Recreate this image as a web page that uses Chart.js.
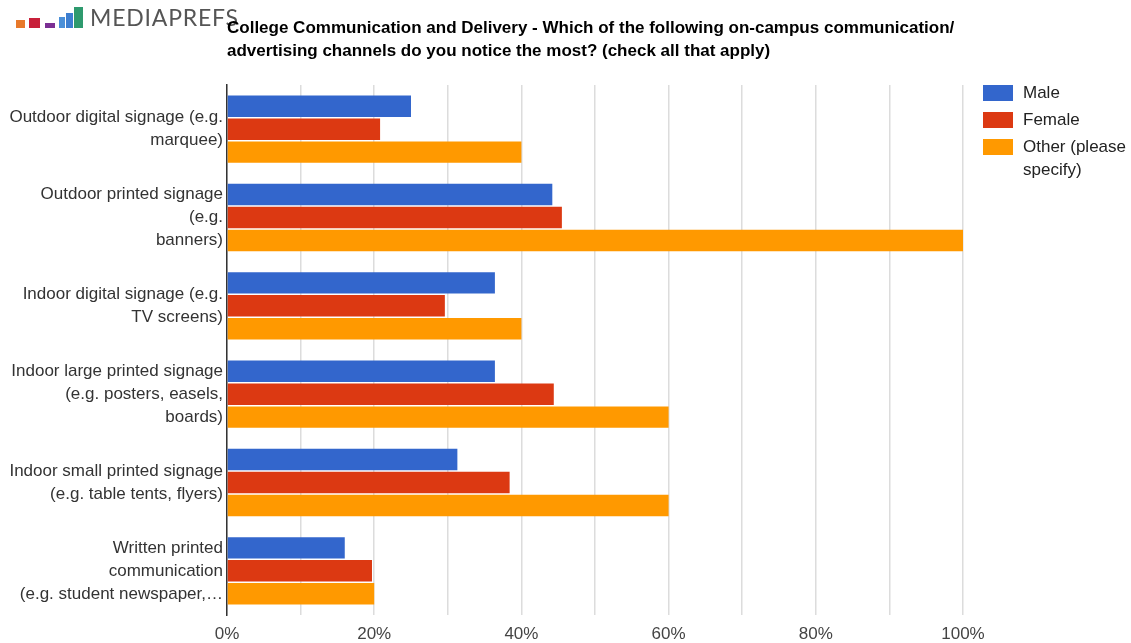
<!DOCTYPE html>
<html lang="en">

<head>
    <meta charset="UTF-8">
    <title>College Communication and Delivery</title>
    <style>
        body { margin: 0; background: #fff; font-family: "Liberation Sans", Arial, sans-serif; }
        .pagina { position: relative; width: 1131px; height: 643px; overflow: hidden; }
        .grafico { position: absolute; left: 0; top: 0; width: 1131px; height: 643px; }
        .logo { position: absolute; left: 16px; top: 4px; height: 24px; }
        .logo i { position: absolute; bottom: 0; display: block; }
        .logo span { position: absolute; left: 74px; top: -1px; font-family: Lato, "Open Sans", sans-serif; font-size: 23px; color: #555; letter-spacing: 0.8px; white-space: nowrap; }
        .titulo { position: absolute; left: 227px; top: 16px; font-weight: bold; font-size: 17px; line-height: 23px; color: #000; white-space: nowrap; }
        .legenda { position: absolute; left: 983px; top: 81px; font-size: 17px; color: #222; }
        .legenda div { position: relative; padding-left: 40px; line-height: 23px; margin-bottom: 4px; white-space: nowrap; }
        .legenda b { position: absolute; left: 0; top: 4px; width: 30px; height: 16px; }
    </style>
</head>

<body>
    <div class="pagina">
        <div class="grafico"><canvas id="chart1"></canvas></div>
        <div class="logo">
            <i style="left:0;width:9px;height:8px;background:#e8792a"></i>
            <i style="left:13px;width:11px;height:10px;background:#c8203a"></i>
            <i style="left:29px;width:10px;height:5px;background:#7b2f93"></i>
            <i style="left:43px;width:6px;height:11px;background:#4a8fd8"></i>
            <i style="left:50px;width:7px;height:15px;background:#3d7ed0"></i>
            <i style="left:58px;width:9px;height:21px;background:#2e9a6e"></i>
            <span>MEDIAPREFS</span>
        </div>
        <div class="titulo">College Communication and Delivery - Which of the following on-campus communication/<br>advertising channels do you notice the most? (check all that apply)</div>
        <div class="legenda" id="legenda"></div>
    </div>

    <script src="https://cdn.jsdelivr.net/npm/chart.js"></script>
    <script>
        // canais perguntados
        var categorias = [
            ["Outdoor digital signage (e.g.", "marquee)"],
            ["Outdoor printed signage", "(e.g.", "banners)"],
            ["Indoor digital signage (e.g.", "TV screens)"],
            ["Indoor large printed signage", "(e.g. posters, easels,", "boards)"],
            ["Indoor small printed signage", "(e.g. table tents, flyers)"],
            ["Written printed", "communication", "(e.g. student newspaper,…"]
        ];

        // % de respostas por genero
        var masculino = [25, 44.2, 36.4, 36.4, 31.3, 16];
        var feminino = [20.8, 45.5, 29.6, 44.4, 38.4, 19.7];
        var outro = [40, 100, 40, 60, 60, 20];

        var nomes = ["Male", "Female", ["Other (please", "specify)"]];
        var cores = ["#3366cc", "#dc3912", "#ff9900"];
        var ticksX = [0, 20, 40, 60, 80, 100];

        const ctx = document.getElementById('chart1');

        var series = [masculino, feminino, outro];
        var data = {
            labels: categorias,
            datasets: []
        };
        for (i = 0; i < series.length; i++) {
            data.datasets.push({
                label: [].concat(nomes[i]).join(" "),
                data: series[i],
                backgroundColor: cores[i],
                borderWidth: 0,
                categoryPercentage: 0.78,
                barPercentage: 0.935
            });
        }

        chart1 = new Chart(ctx, {
            type: 'bar',
            data: data,
            options: {
                indexAxis: 'y',
                responsive: true,
                maintainAspectRatio: false,
                animation: false,
                layout: { padding: { top: 85, right: 168, left: 0, bottom: 0 } },
                plugins: {
                    legend: { display: false },
                    tooltip: { enabled: false }
                },
                scales: {
                    x: {
                        min: 0,
                        max: 100,
                        afterFit: function (scale) { scale.height = 28; },
                        afterBuildTicks: function (scale) {
                            var t = [];
                            for (var v = 0; v <= 100; v += 10) t.push({ value: v });
                            scale.ticks = t;
                        },
                        ticks: {
                            autoSkip: false,
                            maxRotation: 0,
                            padding: 9,
                            color: '#444',
                            font: { family: '"Liberation Sans", Arial', size: 17 },
                            callback: function (v) { return ticksX.indexOf(v) >= 0 ? v + '%' : ''; }
                        },
                        grid: { color: '#dcdcdc', lineWidth: 1.5, drawTicks: false },
                        border: { display: false }
                    },
                    y: {
                        afterFit: function (scale) { scale.width = 227; },
                        ticks: {
                            padding: 4,
                            color: '#333',
                            font: { family: '"Liberation Sans", Arial', size: 17, lineHeight: 1.353 }
                        },
                        grid: { display: false, drawTicks: false },
                        border: { display: true, color: '#333', width: 1.5 }
                    }
                }
            }
        });

        // legenda a direita
        var legenda = document.getElementById('legenda');
        for (i = 0; i < nomes.length; i++) {
            var item = document.createElement('div');
            item.innerHTML = '<b style="background:' + cores[i] + '"></b>' + [].concat(nomes[i]).join('<br>');
            legenda.appendChild(item);
        }
    </script>
</body>

</html>
